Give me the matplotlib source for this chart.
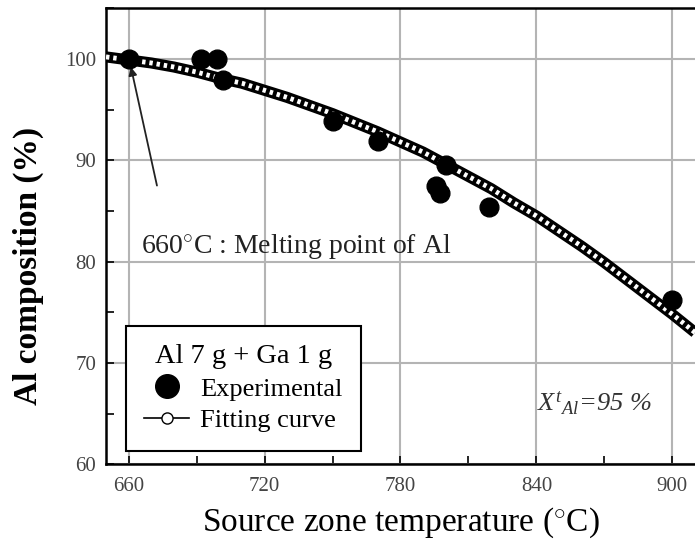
import matplotlib
matplotlib.use("Agg")
import matplotlib.pyplot as plt
from matplotlib.lines import Line2D
from matplotlib.ticker import MultipleLocator

plt.rcParams['font.family'] = ['Liberation Serif', 'DejaVu Serif']
plt.rcParams['mathtext.fontset'] = 'custom'
plt.rcParams['mathtext.it'] = 'Liberation Serif:italic'
plt.rcParams['mathtext.rm'] = 'Liberation Serif'

# experimental points
exp_temp = [660, 692, 699, 701.5, 750, 770, 800, 795.5, 797.5, 819, 900]
exp_comp = [100, 100, 100, 97.9, 93.9, 91.9, 89.5, 87.5, 86.8, 85.4, 76.2]

# fitting curve, read every 10 degC
fit_temp = [650, 660, 670, 680, 690, 700, 710, 720, 730, 740, 750, 760, 770, 780,
            790, 800, 810, 820, 830, 840, 850, 860, 870, 880, 890, 900, 910]
fit_comp = [100.2, 99.9, 99.6, 99.2, 98.7, 98.1, 97.6, 96.9, 96.2, 95.4, 94.6, 93.7,
            92.8, 91.8, 90.8, 89.6, 88.4, 87.2, 85.8, 84.5, 83.0, 81.5, 79.9, 78.2,
            76.5, 74.8, 73.0]

fig = plt.figure(figsize=(6.95, 5.5), dpi=100)
ax = fig.add_axes([0.1525, 0.156, 0.8475, 0.829])

ax.grid(True, color='#b4b4b4', lw=1.5)
ax.set_axisbelow(True)

# chain-of-circles look for the fit
ax.plot(fit_temp, fit_comp, color='black', lw=8, solid_capstyle='butt', zorder=3)
ax.plot(fit_temp, fit_comp, color='white', lw=3.5, linestyle=(0, (0.7, 0.8)), zorder=4)
ax.plot(exp_temp, exp_comp, 'o', color='black', ms=13.5, zorder=5)

ax.annotate('', xy=(661, 99.2), xytext=(672.5, 87.5),
            arrowprops=dict(arrowstyle='-|>', color='#222222', lw=1.3,
                            shrinkA=0, shrinkB=0, mutation_scale=12))
ax.text(734, 81.5, '660$^{\\circ}$C : Melting point of Al', ha='center', va='center',
        fontsize=20, color='#222222')

ax.text(0.83, 0.134, '$X^{t}{}_{Al}$=95 %', transform=ax.transAxes,
        fontsize=19, style='italic', ha='center', va='center', color='#333333')

handles = [Line2D([], [], ls='none', marker='o', color='black', ms=17),
           Line2D([], [], color='black', lw=1.2, marker='o', mfc='white', mec='black', ms=8)]
leg = ax.legend(handles, ['Experimental', 'Fitting curve'], title='Al 7 g + Ga 1 g',
                loc='lower left', bbox_to_anchor=(0.034, 0.03), fontsize=19,
                title_fontsize=20.5, frameon=True, fancybox=False, framealpha=1,
                edgecolor='black', handlelength=1.7, handletextpad=0.4,
                borderpad=0.7, labelspacing=0.3, borderaxespad=0)
leg.get_frame().set_linewidth(1.5)

ax.set_xlim(650, 910)
ax.set_ylim(60, 105)
ax.xaxis.set_major_locator(MultipleLocator(60))
ax.xaxis.set_minor_locator(MultipleLocator(30))
ax.yaxis.set_major_locator(MultipleLocator(10))
ax.yaxis.set_minor_locator(MultipleLocator(5))
ax.tick_params(which='both', direction='in', length=6, width=1.2, labelsize=15,
               labelcolor='#444444', top=False, right=False)
ax.tick_params(axis='x', pad=9)
ax.tick_params(axis='y', pad=7)

for s in ['top', 'left', 'bottom']:
    ax.spines[s].set_linewidth(1.8)
ax.spines['right'].set_visible(False)

ax.set_xlabel('Source zone temperature ($^{\\circ}$C)', fontsize=24, labelpad=7)
ax.set_ylabel('Al composition (%)', fontsize=24, fontweight='bold')
ax.yaxis.set_label_coords(-0.105, 0.434)

fig.savefig('out.png', dpi=100)
